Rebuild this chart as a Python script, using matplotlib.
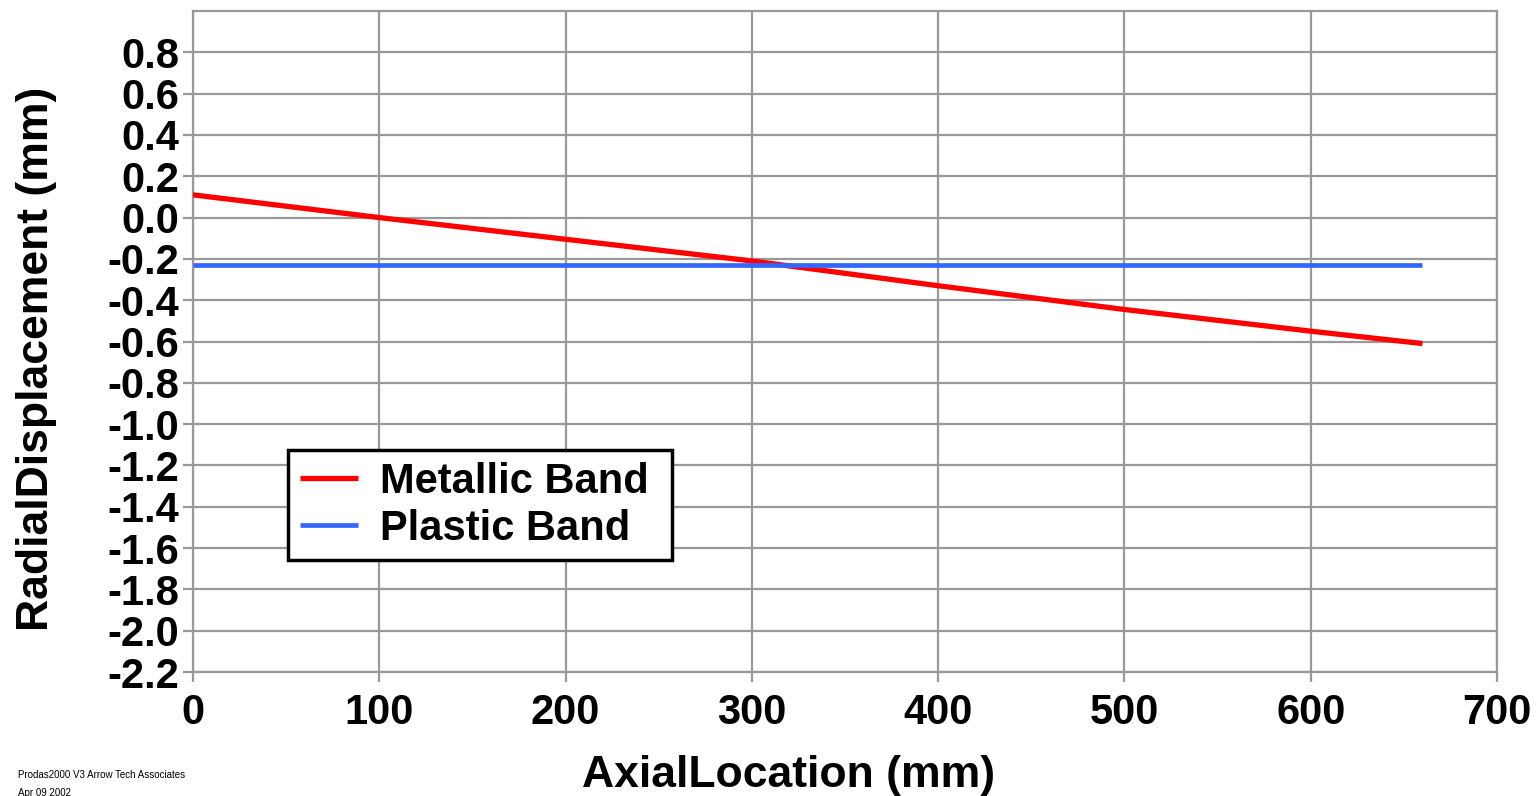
import matplotlib.pyplot as plt
import numpy as np

plt.rcParams['font.family'] = ['Liberation Sans', 'DejaVu Sans']
plt.rcParams['axes.unicode_minus'] = False

# axial location (mm) and radial displacement (mm)
axial = [0, 100, 200, 300, 400, 500, 600, 660]
metallic = [0.11, 0.0, -0.105, -0.21, -0.33, -0.445, -0.55, -0.61]
plastic_x = [0, 660]
plastic = [-0.23, -0.23]

yticks = np.round(np.arange(-2.2, 0.81, 0.2), 1)
xticks = [0, 100, 200, 300, 400, 500, 600, 700]

fig = plt.figure(figsize=(15.38, 7.96), dpi=100)
ax = fig.add_axes([193/1538, 1 - 672/796, (1497 - 193)/1538, (672 - 11)/796])

grid_col = '#999999'
ax.plot(axial, metallic, color='#ff0000', lw=3.8, label='Metallic Band ',
        solid_capstyle='butt', zorder=3)
ax.plot(plastic_x, plastic, color='#3366ff', lw=3.4, label='Plastic Band',
        solid_capstyle='butt', zorder=3)

ax.set_xlim(0, 700)
ax.set_ylim(-2.2, 1.0)
ax.set_xticks(xticks)
ax.set_yticks(yticks)
ax.set_xticklabels([str(v) for v in xticks])
ax.set_yticklabels([f'{v:.1f}' for v in yticks])
ax.grid(True, color=grid_col, lw=1.6)
ax.set_axisbelow(True)
for s in ax.spines.values():
    s.set_color(grid_col)
    s.set_linewidth(1.6)

ax.tick_params(axis='both', colors=grid_col, length=7, width=1.6,
               labelcolor='black', labelsize=30)
ax.tick_params(axis='y', pad=3)
ax.tick_params(axis='x', pad=8)
for lab in ax.get_xticklabels() + ax.get_yticklabels():
    lab.set_fontweight('bold')

ax.set_xlabel('AxialLocation (mm)', fontsize=32, fontweight='bold')
ax.set_ylabel('RadialDisplacement (mm)', fontsize=32, fontweight='bold')
ax.xaxis.set_label_coords((789 - 193)/1304, -(787 - 672)/661)
ax.xaxis.label.set_va('baseline')
ax.yaxis.set_label_coords(-(193 - 37)/1304, (672 - 359)/661)
ax.yaxis.label.set_va('center')

leg = ax.legend(loc='upper left', bbox_to_anchor=(288/1538, 1 - 450/796),
                bbox_transform=fig.transFigure, borderaxespad=0,
                prop={'family': 'Liberation Sans', 'weight': 'bold', 'size': 30},
                frameon=True, fancybox=False, shadow=False,
                handlelength=1.4, handletextpad=0.52, labelspacing=0.17,
                borderpad=0.28)
leg.get_frame().set_edgecolor('black')
leg.get_frame().set_linewidth(2.5)
leg.get_frame().set_alpha(1)

fig.text(18/1538, 1 - 775/796, 'Prodas2000 V3 Arrow Tech Associates',
         fontsize=7, va='center', ha='left')
fig.text(18/1538, 1 - 793/796, 'Apr 09 2002', fontsize=7, va='center',
         ha='left')

fig.savefig('out.png', dpi=100)
